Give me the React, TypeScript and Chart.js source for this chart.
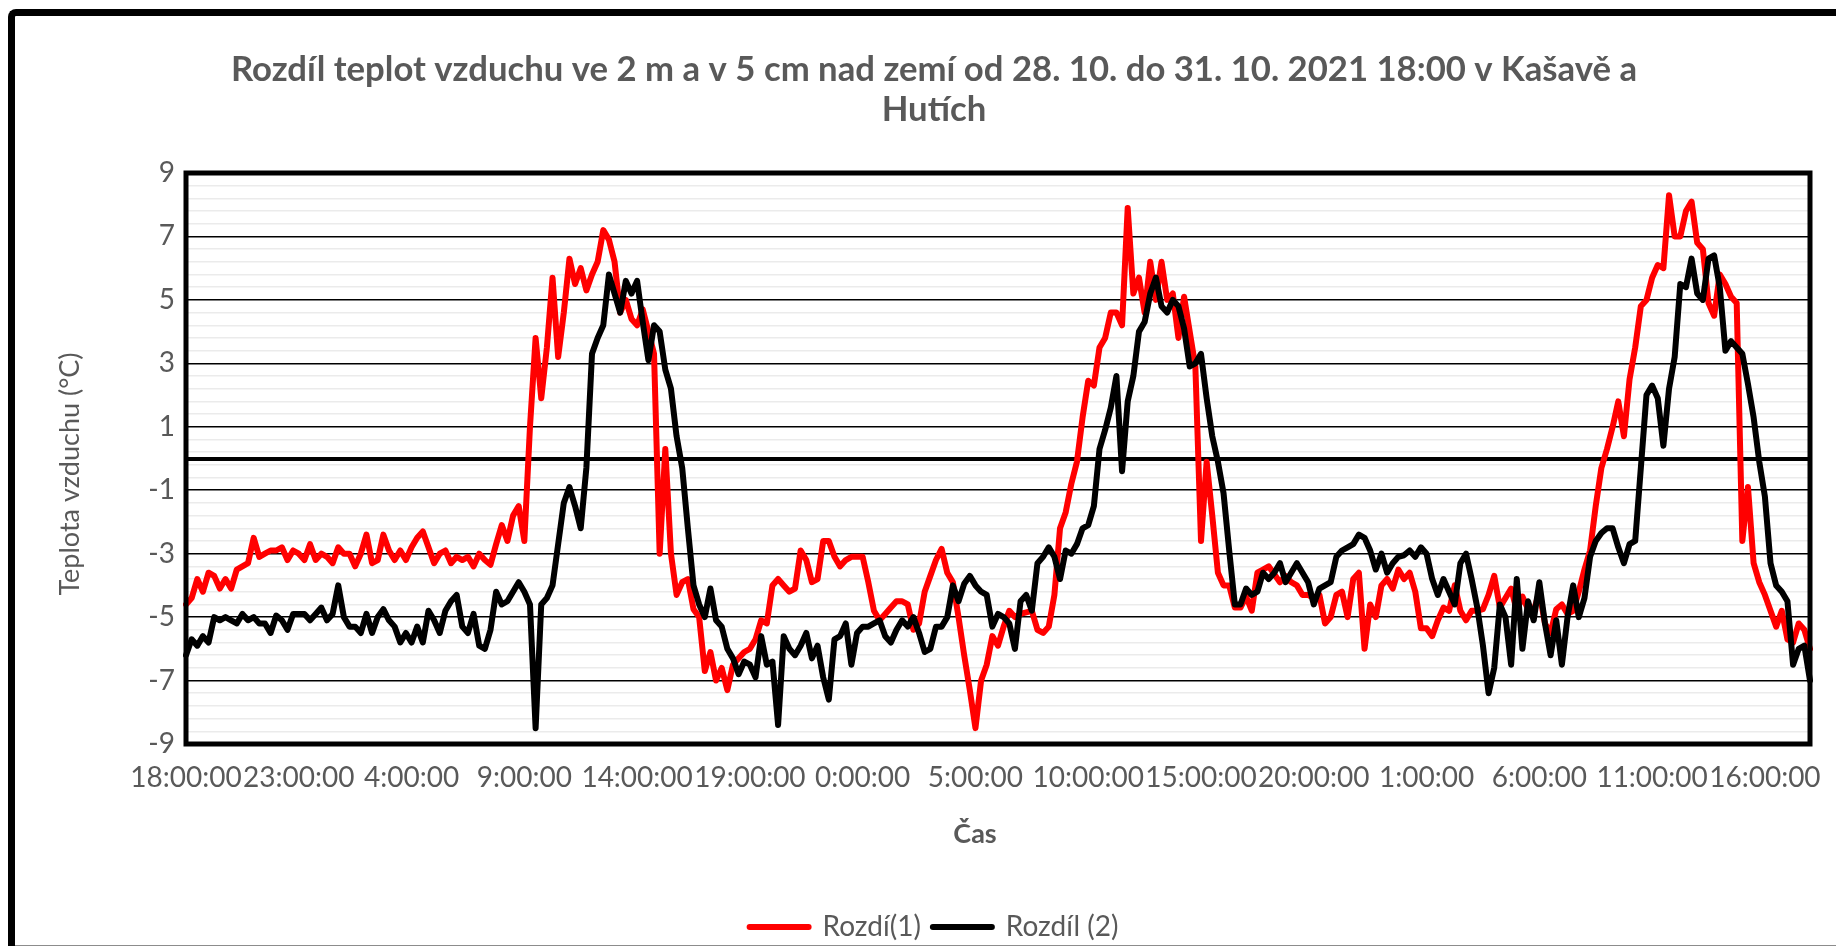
import React, { useEffect, useRef } from 'react';
import { Chart, registerables } from 'chart.js';

Chart.register(...registerables);

const TITLE_LINES = [
  'Rozdíl teplot vzduchu ve 2 m a v 5 cm nad zemí od 28. 10. do 31. 10. 2021 18:00 v Kašavě a',
  'Hutích',
];
const Y_AXIS_TITLE = 'Teplota vzduchu (°C)';
const X_AXIS_TITLE = 'Čas';
const SERIES_NAMES = ['Rozdí(1)', 'Rozdíl (2)'];
const X_TICK_LABELS = [
  '18:00:00', '23:00:00', '4:00:00', '9:00:00', '14:00:00', '19:00:00', '0:00:00', '5:00:00',
  '10:00:00', '15:00:00', '20:00:00', '1:00:00', '6:00:00', '11:00:00', '16:00:00',
];
const Y_TICK_LABELS = [-9, -7, -5, -3, -1, 1, 3, 5, 7, 9];
const Y_MIN = -9;
const Y_MAX = 9;
const Y_MINOR_STEP = 0.4;
const START_HOUR = 18;
const MINUTES_PER_POINT = 15;
const LABEL_EVERY = 20;

// Rozdí(1) – every 15 minutes from 28.10. 18:00 to 31.10. 18:00
const RED_SERIES = [
  -4.6, -4.4, -3.8, -4.2,
  -3.6, -3.7, -4.1, -3.8,
  -4.1, -3.5, -3.4, -3.3,
  -2.5, -3.1, -3.0, -2.9,
  -2.9, -2.8, -3.2, -2.9,
  -3.0, -3.2, -2.7, -3.2,
  -3.0, -3.1, -3.3, -2.8,
  -3.0, -3.0, -3.4, -3.0,
  -2.4, -3.3, -3.2, -2.4,
  -2.9, -3.2, -2.9, -3.2,
  -2.8, -2.5, -2.3, -2.8,
  -3.3, -3.0, -2.9, -3.3,
  -3.1, -3.2, -3.1, -3.4,
  -3.0, -3.2, -3.35, -2.7,
  -2.1, -2.6, -1.8, -1.5,
  -2.6, 1.0, 3.8, 1.9,
  3.5, 5.7, 3.2, 4.6,
  6.3, 5.5, 6.0, 5.3,
  5.8, 6.2, 7.2, 6.9,
  6.2, 4.6, 5.0, 4.4,
  4.2, 4.7, 4.0, 3.3,
  -3.0, 0.3, -3.0, -4.3,
  -3.9, -3.8, -4.75, -5.0,
  -6.7, -6.1, -7.0, -6.6,
  -7.3, -6.5, -6.3, -6.1,
  -6.0, -5.7, -5.1, -5.2,
  -4.0, -3.8, -4.0, -4.2,
  -4.1, -2.9, -3.2, -3.9,
  -3.8, -2.6, -2.6, -3.1,
  -3.4, -3.2, -3.1, -3.1,
  -3.1, -3.9, -4.8, -5.1,
  -4.9, -4.7, -4.5, -4.5,
  -4.6, -5.4, -5.2, -4.2,
  -3.7, -3.2, -2.85, -3.6,
  -3.9, -5.0, -6.2, -7.3,
  -8.5, -7.0, -6.5, -5.6,
  -5.9, -5.3, -4.8, -5.0,
  -4.9, -4.85, -4.8, -5.4,
  -5.5, -5.3, -4.3, -2.2,
  -1.7, -0.8, -0.1, 1.3,
  2.45, 2.3, 3.5, 3.8,
  4.6, 4.6, 4.2, 7.9,
  5.2, 5.7, 4.6, 6.2,
  5.0, 6.2, 5.0, 5.2,
  3.8, 5.1, 4.0, 2.9,
  -2.6, -0.1, -1.8, -3.6,
  -4.0, -4.0, -4.7, -4.7,
  -4.35, -4.8, -3.6, -3.5,
  -3.4, -3.65, -3.9, -3.7,
  -3.9, -4.0, -4.3, -4.3,
  -4.4, -4.3, -5.2, -5.0,
  -4.3, -4.2, -5.0, -3.8,
  -3.6, -6.0, -4.6, -5.0,
  -4.0, -3.8, -4.1, -3.5,
  -3.8, -3.6, -4.2, -5.35,
  -5.35, -5.6, -5.1, -4.7,
  -4.8, -4.0, -4.8, -5.1,
  -4.8, -4.8, -4.75, -4.3,
  -3.7, -4.7, -4.4, -4.1,
  -4.8, -4.35, -4.75, -4.8,
  -4.2, -5.2, -5.5, -4.75,
  -4.6, -4.9, -4.8, -4.2,
  -3.5, -2.9, -1.5, -0.3,
  0.3, 1.0, 1.8, 0.7,
  2.5, 3.5, 4.8, 5.0,
  5.7, 6.1, 6.0, 8.3,
  7.0, 7.0, 7.8, 8.1,
  6.8, 6.6, 4.9, 4.5,
  5.8, 5.5, 5.1, 4.9,
  -2.6, -0.9, -3.3, -3.9,
  -4.3, -4.8, -5.3, -4.8,
  -5.7, -5.8, -5.2, -5.4,
  -6.0,
];

// Rozdíl (2)
const BLACK_SERIES = [
  -6.2, -5.7, -5.9, -5.6,
  -5.8, -5.0, -5.1, -5.0,
  -5.1, -5.2, -4.9, -5.1,
  -5.0, -5.2, -5.2, -5.5,
  -4.95, -5.1, -5.4, -4.9,
  -4.9, -4.9, -5.1, -4.9,
  -4.7, -5.1, -4.9, -4.0,
  -5.0, -5.3, -5.3, -5.5,
  -4.9, -5.5, -5.0, -4.75,
  -5.1, -5.3, -5.8, -5.5,
  -5.8, -5.3, -5.8, -4.8,
  -5.1, -5.5, -4.8, -4.5,
  -4.3, -5.3, -5.5, -4.9,
  -5.9, -6.0, -5.4, -4.2,
  -4.6, -4.5, -4.2, -3.9,
  -4.2, -4.6, -8.5, -4.6,
  -4.4, -4.0, -2.7, -1.4,
  -0.9, -1.5, -2.2, -0.3,
  3.3, 3.8, 4.2, 5.8,
  5.2, 4.6, 5.6, 5.2,
  5.6, 4.3, 3.1, 4.2,
  4.0, 2.8, 2.2, 0.7,
  -0.3, -2.2, -4.0, -4.6,
  -5.0, -4.1, -5.1, -5.3,
  -6.0, -6.3, -6.8, -6.4,
  -6.5, -6.9, -5.6, -6.5,
  -6.4, -8.4, -5.6, -6.0,
  -6.2, -5.9, -5.5, -6.3,
  -5.9, -6.9, -7.6, -5.7,
  -5.6, -5.2, -6.5, -5.5,
  -5.3, -5.3, -5.2, -5.1,
  -5.6, -5.8, -5.4, -5.1,
  -5.3, -5.0, -5.5, -6.1,
  -6.0, -5.3, -5.3, -5.0,
  -4.0, -4.5, -3.95, -3.7,
  -4.0, -4.2, -4.3, -5.3,
  -4.9, -5.0, -5.2, -6.0,
  -4.5, -4.3, -4.8, -3.3,
  -3.1, -2.8, -3.1, -3.8,
  -2.9, -3.0, -2.7, -2.2,
  -2.1, -1.5, 0.3, 0.9,
  1.6, 2.6, -0.4, 1.8,
  2.6, 4.0, 4.3, 5.2,
  5.7, 4.8, 4.6, 5.0,
  4.8, 4.1, 2.9, 3.0,
  3.3, 1.9, 0.7, -0.1,
  -1.1, -2.9, -4.6, -4.6,
  -4.1, -4.3, -4.2, -3.6,
  -3.8, -3.6, -3.3, -3.9,
  -3.6, -3.3, -3.6, -3.9,
  -4.6, -4.1, -4.0, -3.9,
  -3.1, -2.9, -2.8, -2.7,
  -2.4, -2.5, -2.9, -3.5,
  -3.0, -3.6, -3.3, -3.1,
  -3.05, -2.9, -3.1, -2.8,
  -3.0, -3.8, -4.3, -3.8,
  -4.2, -4.6, -3.3, -3.0,
  -3.8, -4.7, -5.9, -7.4,
  -6.6, -4.6, -5.0, -6.5,
  -3.8, -6.0, -4.5, -5.1,
  -3.9, -5.2, -6.2, -5.1,
  -6.5, -5.0, -4.0, -5.0,
  -4.4, -3.1, -2.6, -2.35,
  -2.2, -2.2, -2.8, -3.3,
  -2.7, -2.6, -0.3, 2.0,
  2.3, 1.9, 0.4, 2.2,
  3.2, 5.5, 5.4, 6.3,
  5.2, 5.0, 6.3, 6.4,
  5.4, 3.4, 3.7, 3.5,
  3.3, 2.35, 1.3, -0.1,
  -1.2, -3.3, -4.0, -4.2,
  -4.5, -6.5, -6.0, -5.9,
  -7.0,
];

const TIME_LABELS = RED_SERIES.map((_, i) => {
  const m = (START_HOUR * 60 + i * MINUTES_PER_POINT) % 1440;
  return `${Math.floor(m / 60)}:${String(m % 60).padStart(2, '0')}:00`;
});

const TEXT_COLOR = '#595959';
const FONT = 'Lato';
const CANVAS_W = 1868;
const CANVAS_H = 960;
const PLOT_RIGHT = 1810;

const isMajor = (v: number) => Y_TICK_LABELS.includes(v);

const decorPlugin = {
  id: 'decor',
  afterDraw(chart: any) {
    const { ctx, chartArea } = chart;
    ctx.save();
    ctx.strokeStyle = '#000';
    ctx.lineWidth = 5;
    ctx.strokeRect(chartArea.left, chartArea.top, chartArea.right - chartArea.left, chartArea.bottom - chartArea.top);
    ctx.fillStyle = TEXT_COLOR;
    ctx.font = `27px ${FONT}`;
    ctx.textAlign = 'center';
    ctx.textBaseline = 'middle';
    ctx.translate(70, 474);
    ctx.rotate(-Math.PI / 2);
    ctx.fillText(Y_AXIS_TITLE, 0, 0);
    ctx.restore();
    ctx.save();
    ctx.fillStyle = TEXT_COLOR;
    ctx.font = `bold 27px ${FONT}`;
    ctx.textAlign = 'center';
    ctx.textBaseline = 'middle';
    ctx.fillText(X_AXIS_TITLE, 975, 834);
    ctx.restore();
  },
};

export default function App() {
  const canvasRef = useRef<HTMLCanvasElement | null>(null);

  useEffect(() => {
    if (!canvasRef.current) return;
    const chart = new Chart(canvasRef.current, {
      type: 'line',
      data: {
        labels: TIME_LABELS,
        datasets: [
          {
            label: SERIES_NAMES[0],
            data: RED_SERIES,
            borderColor: '#ff0000',
            backgroundColor: '#ff0000',
            borderWidth: 6,
            pointRadius: 0,
            tension: 0,
            borderJoinStyle: 'round',
            borderCapStyle: 'round',
            order: 1,
          },
          {
            label: SERIES_NAMES[1],
            data: BLACK_SERIES,
            borderColor: '#000000',
            backgroundColor: '#000000',
            borderWidth: 6,
            pointRadius: 0,
            tension: 0,
            borderJoinStyle: 'round',
            borderCapStyle: 'round',
            order: 0,
          },
        ],
      },
      options: {
        responsive: false,
        animation: false,
        devicePixelRatio: 1,
        layout: { padding: { top: 0, left: 0, right: 0, bottom: 9 } },
        font: { family: FONT },
        plugins: {
          tooltip: { enabled: false },
          title: {
            display: true,
            text: TITLE_LINES,
            color: TEXT_COLOR,
            font: { family: FONT, size: 34.7, weight: 'bold', lineHeight: 40 / 34.7 },
            padding: { top: 50, bottom: 43 },
          },
          legend: {
            position: 'bottom',
            labels: {
              usePointStyle: true,
              pointStyle: 'line',
              pointStyleWidth: 59,
              color: TEXT_COLOR,
              font: { family: FONT, size: 28 },
              padding: 12,
              sort: (a: any, b: any) => a.datasetIndex - b.datasetIndex,
              generateLabels: (c: any) =>
                (Chart as any).defaults.plugins.legend.labels
                  .generateLabels(c)
                  .map((l: any) => ({ ...l, lineWidth: 6, lineCap: 'round' })),
            },
          },
        },
        scales: {
          x: {
            type: 'category',
            offset: false,
            grid: { display: false, drawTicks: false },
            border: { display: false },
            ticks: {
              autoSkip: false,
              maxRotation: 0,
              minRotation: 0,
              padding: 17,
              color: TEXT_COLOR,
              font: { family: FONT, size: 28 },
              callback: (_v: any, index: number) =>
                index % LABEL_EVERY === 0 && X_TICK_LABELS[index / LABEL_EVERY] !== undefined
                  ? X_TICK_LABELS[index / LABEL_EVERY]
                  : '',
            },
            afterFit: (scale: any) => {
              scale.height = 157;
            },
          },
          y: {
            type: 'linear',
            position: 'left',
            min: Y_MIN,
            max: Y_MAX,
            border: { display: false },
            afterBuildTicks: (scale: any) => {
              const vals: number[] = [];
              const n = Math.round((Y_MAX - Y_MIN) / Y_MINOR_STEP);
              for (let k = 0; k <= n; k++) vals.push(Math.round((Y_MIN + k * Y_MINOR_STEP) * 10) / 10);
              vals.push(0);
              vals.sort((a, b) => a - b);
              scale.ticks = vals.map((v) => ({ value: v }));
            },
            afterFit: (scale: any) => {
              scale.width = 186;
            },
            grid: {
              drawTicks: false,
              color: (c: any) => {
                const v = c.tick ? c.tick.value : null;
                if (v === 0 || isMajor(v)) return '#000000';
                return '#ebebeb';
              },
              lineWidth: (c: any) => {
                const v = c.tick ? c.tick.value : null;
                if (v === 0) return 4;
                return 1.5;
              },
            },
            ticks: {
              autoSkip: false,
              padding: 11,
              color: TEXT_COLOR,
              font: { family: FONT, size: 28 },
              callback: (v: any) => (isMajor(Number(v)) ? String(v) : ''),
            },
          },
          spacer: {
            type: 'linear',
            position: 'right',
            display: true,
            grid: { display: false, drawTicks: false },
            border: { display: false },
            ticks: { display: false },
            afterFit: (scale: any) => {
              scale.width = CANVAS_W - PLOT_RIGHT;
            },
          },
        },
      },
      plugins: [decorPlugin],
    } as any);
    return () => chart.destroy();
  }, []);

  return (
    <div
      style={{
        position: 'absolute',
        left: 0,
        top: 0,
        width: 1836,
        height: 946,
        overflow: 'hidden',
        background: '#ffffff',
      }}
    >
      <canvas
        ref={canvasRef}
        width={CANVAS_W}
        height={CANVAS_H}
        style={{ position: 'absolute', left: 0, top: 0, width: CANVAS_W, height: CANVAS_H }}
      />
      <div
        style={{
          position: 'absolute',
          left: 8,
          top: 9,
          width: 2000,
          height: 2000,
          borderLeft: '7px solid #000',
          borderTop: '7px solid #000',
          borderTopLeftRadius: 8,
          pointerEvents: 'none',
        }}
      />
      <div
        style={{
          position: 'absolute',
          left: 15,
          top: 945,
          width: 1821,
          height: 1,
          background: '#8c8c8c',
        }}
      />
    </div>
  );
}
